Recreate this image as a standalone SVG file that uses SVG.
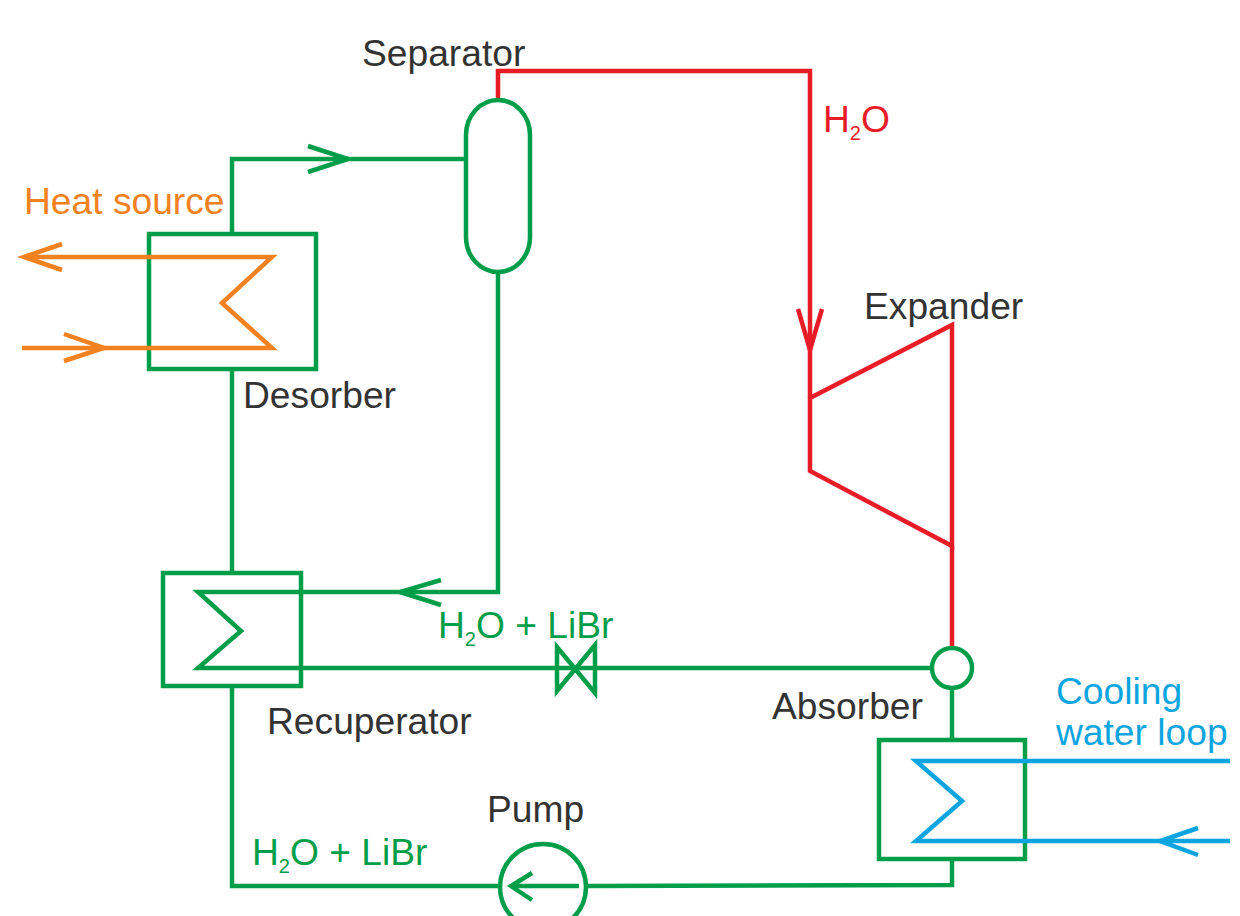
<svg xmlns="http://www.w3.org/2000/svg" width="1240" height="916" viewBox="0 0 1240 916">
<style>
.l{fill:none;stroke-width:4.5;stroke-linejoin:miter;stroke-linecap:butt}
.g{stroke:#009E49}.r{stroke:#E81C27}.o{stroke:#F28220}.b{stroke:#0DA5E0}
text{font-family:"Liberation Sans",Arial,sans-serif;font-size:37.2px}
.k{fill:#333}.tg{fill:#009E49}.tr{fill:#E81C27}.to{fill:#F28220}.tb{fill:#0DA5E0}
.s{font-size:20px}
</style>
<rect width="1240" height="916" fill="#fff"/>
<g id="connectors">
<path class="l g" d="M232 233V159H466"/>
<path class="l g" d="M308 146L348 159L308 172"/>
<path class="l g" d="M498 272V592H301"/>
<path class="l g" d="M441 580L400 592L441 605"/>
<path class="l g" d="M232 369V573"/>
<path class="l g" d="M232 686V886H500"/>
<path class="l g" d="M301 668H932"/>
<path class="l g" d="M586 886L952 885V859"/>
<path class="l g" d="M952 740V689"/>
<path class="l r" d="M498 100V71H810V398"/>
<path class="l r" d="M798 309L810 350L822 309"/>
<path class="l r" d="M952 546V648"/>
</g>
<g id="desorber">
<rect class="l g" x="149" y="234" width="167" height="135"/>
<path class="l o" d="M24 257H272L222 303L272 348H22"/>
<path class="l o" d="M62 244L24 257L62 270"/>
<path class="l o" d="M64 334L104 348L64 361"/>
</g>
<g id="separator">
<rect class="l g" x="466" y="100" width="64" height="172" rx="32" ry="35"/>
</g>
<g id="expander">
<path class="l r" d="M810 398L952 325V546L810 471Z"/>
</g>
<g id="recuperator">
<rect class="l g" x="163" y="573" width="138" height="113"/>
<path class="l g" d="M301 592H198L241 631L198 668H301"/>
</g>
<g id="valve">
<path class="l g" d="M557 647L595 693V645L557 691Z"/>
</g>
<g id="absorber-junction">
<circle class="l g" cx="952" cy="668" r="20"/>
</g>
<g id="absorber">
<rect class="l g" x="879" y="740" width="146" height="119"/>
<path class="l b" d="M1230 761H916L962 801L916 841H1230"/>
<path class="l b" d="M1198 828L1160 841L1198 855"/>
</g>
<g id="pump">
<circle class="l g" cx="543" cy="887" r="43"/>
<path class="l g" d="M579 886H511"/>
<path class="l g" d="M532 873L511 886L532 900"/>
</g>
<g id="labels">
<text class="k" x="362" y="66">Separator</text>
<text class="tr" x="823" y="132">H<tspan class="s" dy="8">2</tspan><tspan dy="-8">O</tspan></text>
<text class="to" x="24" y="214">Heat source</text>
<text class="k" x="864" y="319">Expander</text>
<text class="k" x="243" y="408">Desorber</text>
<text class="tg" x="438" y="638">H<tspan class="s" dy="8">2</tspan><tspan dy="-8">O + LiBr</tspan></text>
<text class="k" x="267" y="734">Recuperator</text>
<text class="k" x="772" y="719">Absorber</text>
<text class="tb" x="1056" y="704">Cooling</text>
<text class="tb" x="1056" y="745">water loop</text>
<text class="k" x="487" y="822">Pump</text>
<text class="tg" x="252" y="865">H<tspan class="s" dy="8">2</tspan><tspan dy="-8">O + LiBr</tspan></text>
</g>
</svg>
